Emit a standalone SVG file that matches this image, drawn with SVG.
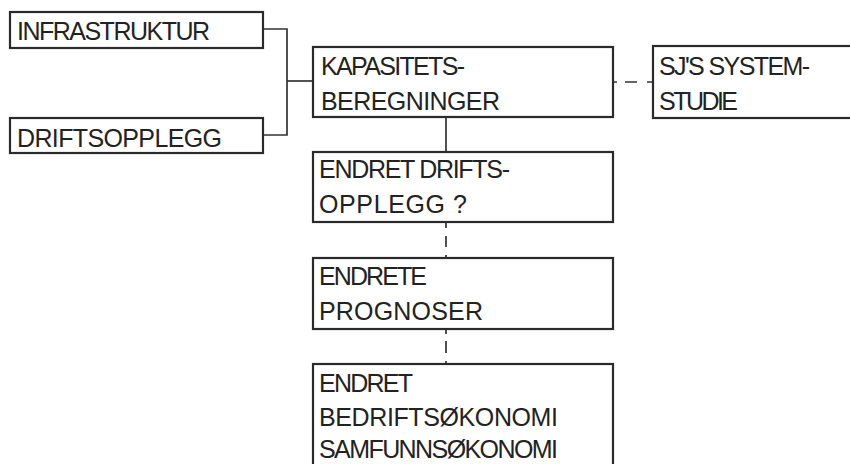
<svg xmlns="http://www.w3.org/2000/svg" width="850" height="464" viewBox="0 0 850 464">
<style>
.box{fill:#fff;stroke:#2a2a2a;stroke-width:2.2}
.t{font-family:"Liberation Sans",Arial,sans-serif;font-size:25px;fill:#222}
.c{fill:none;stroke:#333;stroke-width:1.7}
</style>
<rect width="850" height="464" fill="#fff"/>
<g id="connectors">
<polyline class="c" points="263,29 287,29 287,135 263,135"/>
<line class="c" x1="287" y1="81" x2="313" y2="81"/>
<line class="c" x1="613" y1="82" x2="653" y2="82" stroke-dasharray="4 8 12 10 6"/>
<line class="c" x1="446" y1="117" x2="446" y2="152"/>
<line class="c" x1="446" y1="222" x2="446" y2="258" stroke-dasharray="6 8 11 8 3"/>
<line class="c" x1="446" y1="329" x2="446" y2="364" stroke-dasharray="5 7 12 8 3"/>
</g>
<g id="infrastruktur">
<rect class="box" x="10" y="12" width="253" height="36"/>
<text class="t" x="17" y="40" textLength="193">INFRASTRUKTUR</text>
</g>
<g id="driftsopplegg">
<rect class="box" x="10" y="118" width="253" height="35"/>
<text class="t" x="17" y="147" textLength="205">DRIFTSOPPLEGG</text>
</g>
<g id="kapasitet">
<rect class="box" x="313" y="47" width="300" height="70"/>
<text class="t" x="321" y="75" textLength="144">KAPASITETS-</text>
<text class="t" x="321" y="110" textLength="179">BEREGNINGER</text>
</g>
<g id="sj">
<rect class="box" x="653" y="46" width="220" height="72"/>
<text class="t" x="659" y="75" textLength="151">SJ'S SYSTEM-</text>
<text class="t" x="659" y="110" textLength="79">STUDIE</text>
</g>
<g id="endret-drift">
<rect class="box" x="313" y="152" width="300" height="70"/>
<text class="t" x="319" y="178" textLength="191">ENDRET DRIFTS-</text>
<text class="t" x="319" y="213" textLength="148">OPPLEGG ?</text>
</g>
<g id="prognoser">
<rect class="box" x="313" y="258" width="300" height="71"/>
<text class="t" x="319" y="285" textLength="108">ENDRETE</text>
<text class="t" x="319" y="320" textLength="164">PROGNOSER</text>
</g>
<g id="okonomi">
<rect class="box" x="313" y="364" width="300" height="130"/>
<text class="t" x="319" y="392" textLength="94">ENDRET</text>
<text class="t" x="319" y="426" textLength="239">BEDRIFTSØKONOMI</text>
<text class="t" x="319" y="458" textLength="239">SAMFUNNSØKONOMI</text>
</g>
</svg>
